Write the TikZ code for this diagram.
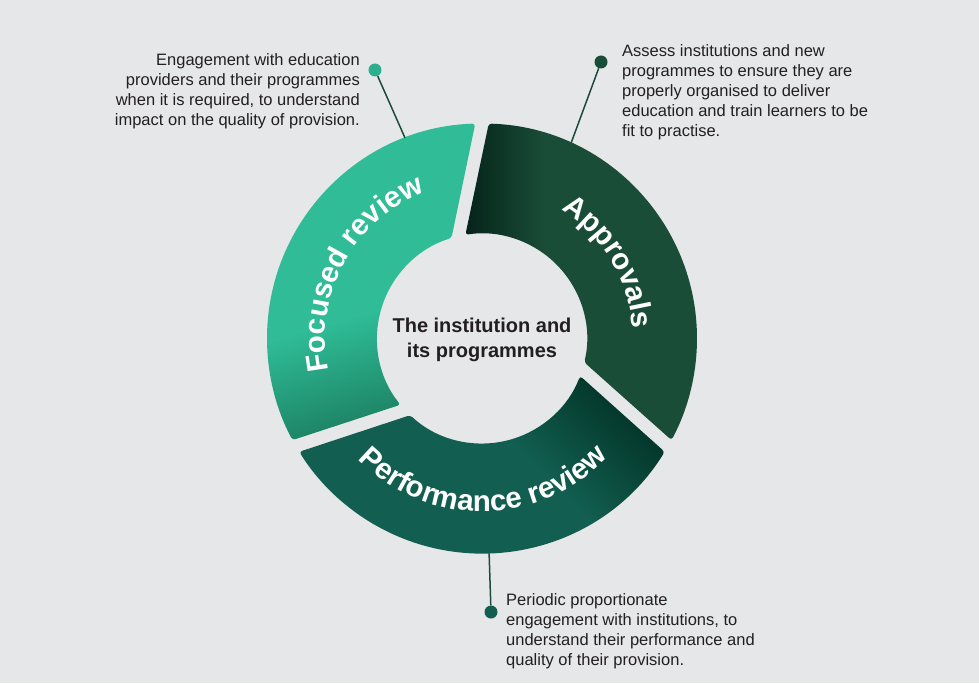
\documentclass[tikz,border=0pt]{standalone}
\usepackage{fontspec}
\setmainfont{Liberation Sans}
\usepackage{tikz}
\usetikzlibrary{decorations.text}
\definecolor{bgcol}{HTML}{E6E7E9}
\definecolor{inkcol}{HTML}{231F20}
\definecolor{pincol}{HTML}{1D4B3A}
\definecolor{focbase}{HTML}{2FBC97}
\definecolor{focdark}{HTML}{1B7D5F}
\definecolor{apprbase}{HTML}{1A4D38}
\definecolor{apprdark}{HTML}{05241A}
\definecolor{perfbase}{HTML}{125F51}
\definecolor{perfdark}{HTML}{043A2D}
\definecolor{focdot}{HTML}{2BB08F}
\pgfdeclareverticalshading{focshade}{100bp}{color(0bp)=(focdark); color(25bp)=(focdark); color(45bp)=(focbase); color(100bp)=(focbase)}
\pgfdeclarehorizontalshading{apprshade}{100bp}{color(0bp)=(apprdark); color(25bp)=(apprdark); color(42bp)=(apprbase); color(100bp)=(apprbase)}
\pgfdeclarehorizontalshading{perfshade}{100bp}{color(0bp)=(perfbase); color(58bp)=(perfbase); color(75bp)=(perfdark); color(100bp)=(perfdark)}
\newcommand\ringfont{\fontsize{29.5}{31}\selectfont\bfseries}

\begin{document}
\begin{tikzpicture}[x=1pt,y=1pt,
ring seg/.style={rounded corners=3pt},
pin line/.style={draw=pincol,line width=1.5pt},
pin dot/.style={circle,inner sep=0pt,minimum size=13pt},
note/.style={inner sep=0pt,font=\fontsize{16.5}{20}\selectfont,text=inkcol},
ring label/.style={decorate,decoration={text along path,text align=center,text color=white,text={|\ringfont|#1}}}]
\fill[bgcol] (-482,-344.5) rectangle (497,338.5);
\useasboundingbox (-482,-344.5) rectangle (497,338.5);
\shade[ring seg,shading=focshade,shading angle=16] (91.8:215) arc[start angle=91.8,end angle=208.2,radius=215pt] -- (219.1:105) arc[start angle=219.1,end angle=106.9,radius=105pt] -- cycle;
\shade[ring seg,shading=apprshade] (88.2:215) arc[start angle=88.2,end angle=-28.2,radius=215pt] -- (-13.1:105) arc[start angle=-13.1,end angle=99.1,radius=105pt] -- cycle;
\shade[ring seg,shading=perfshade,shading angle=45] (-31.8:215) arc[start angle=-31.8,end angle=-148.2,radius=215pt] -- (-133.1:105) arc[start angle=-133.1,end angle=-20.9,radius=105pt] -- cycle;
\path[ring label={Focused review}] (200:157) arc[start angle=200,end angle=103,radius=157pt];
\path[ring label={Approvals}] (80:151) arc[start angle=80,end angle=-18,radius=151pt];
\path[ring label={Performance review}] (222:173) arc[start angle=222,end angle=319,radius=173pt];
\node[font=\fontsize{20}{25}\selectfont\bfseries,text=inkcol,align=center] (hub) at (0,-1.8) {The institution and\\its programmes};
\coordinate (focpin) at (111:215);
\coordinate (apprpin) at (65.5:215);
\coordinate (perfpin) at (-88.1:215);
\node[pin dot,fill=focdot] (focdotnode) at (-107,268.5) {};
\node[pin dot,fill=apprbase] (apprdotnode) at (119,276.5) {};
\node[pin dot,fill=perfbase] (perfdotnode) at (9,-273.5) {};
\draw[pin line] (focdotnode) -- (focpin);
\draw[pin line] (apprdotnode) -- (apprpin);
\draw[pin line] (perfdotnode) -- (perfpin);
\node[note,anchor=north east,align=right] (focnote) at (-122,285.5) {Engagement with education\\providers and their programmes\\when it is required, to understand\\impact on the quality of provision.};
\node[note,anchor=north west,align=left] (apprnote) at (140,294.5) {Assess institutions and new\\programmes to ensure they are\\properly organised to deliver\\education and train learners to be\\fit to practise.};
\node[note,anchor=north west,align=left] (perfnote) at (24,-254.5) {Periodic proportionate\\engagement with institutions, to\\understand their performance and\\quality of their provision.};
\end{tikzpicture}
\end{document}
